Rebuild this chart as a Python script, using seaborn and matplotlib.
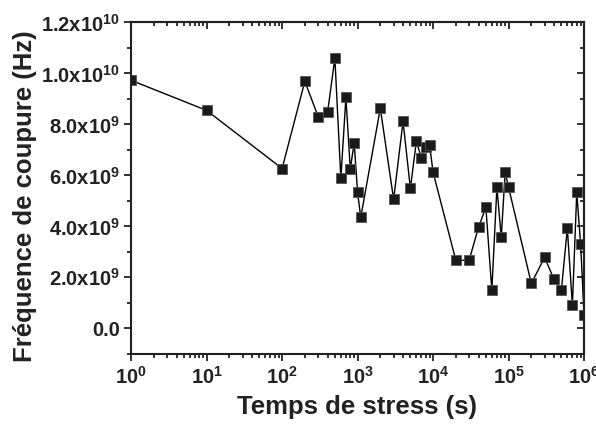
import numpy as np
import pandas as pd
import matplotlib
matplotlib.use("Agg")
import matplotlib.pyplot as plt
import matplotlib.ticker as mticker
import seaborn as sns

# Temps de stress (s) et fréquence de coupure (Hz)
temps = [1, 10, 100, 200, 300, 400, 500, 600, 700, 800, 900, 1000, 1100,
         2000, 3000, 4000, 5000, 6000, 7000, 8000, 9000, 10000,
         20000, 30000, 40000, 50000, 60000, 70000, 80000, 90000, 100000,
         200000, 300000, 400000, 500000, 600000, 700000, 800000, 900000, 1000000]
freq = [9.73e9, 8.55e9, 6.27e9, 9.69e9, 8.31e9, 8.47e9, 10.6e9, 5.88e9, 9.06e9,
        6.24e9, 7.29e9, 5.33e9, 4.35e9,
        8.63e9, 5.06e9, 8.12e9, 5.49e9, 7.33e9, 6.70e9, 7.10e9, 7.18e9, 6.12e9,
        2.67e9, 2.67e9, 3.96e9, 4.75e9, 1.49e9, 5.53e9, 3.57e9, 6.12e9, 5.53e9,
        1.76e9, 2.78e9, 1.92e9, 1.49e9, 3.92e9, 0.90e9, 5.33e9, 3.29e9, 0.51e9]

df = pd.DataFrame({"temps": temps, "freq": freq})

sns.set_style("ticks")
plt.rcParams["font.family"] = ["Liberation Sans", "DejaVu Sans"]
plt.rcParams["font.weight"] = "bold"
plt.rcParams["mathtext.fontset"] = "custom"
plt.rcParams["mathtext.rm"] = "Liberation Sans:bold"
plt.rcParams["mathtext.bf"] = "Liberation Sans:bold"
plt.rcParams["mathtext.it"] = "Liberation Sans:bold"
plt.rcParams["mathtext.default"] = "rm"

fig = plt.figure(figsize=(5.96, 4.32), dpi=100)
ax = fig.add_axes([0.22, 0.181, 0.76, 0.767])

sns.lineplot(data=df, x="temps", y="freq", ax=ax, color="black", linewidth=1,
             marker="s", markersize=7.3, markeredgecolor="#555555", markeredgewidth=0.6,
             markerfacecolor="#1a1a1a", errorbar=None, sort=False)

ax.set_xscale("log")
ax.set_xlim(1, 1e6)
ax.set_ylim(-1e9, 1.2e10)

ax.xaxis.set_major_locator(mticker.LogLocator(base=10, numticks=10))
ax.xaxis.set_minor_locator(mticker.LogLocator(base=10, subs=np.arange(2, 10), numticks=20))
ax.xaxis.set_minor_formatter(mticker.NullFormatter())
ax.xaxis.set_major_formatter(mticker.FuncFormatter(lambda v, p: f"10$^{{{int(round(np.log10(v)))}}}$"))

ax.yaxis.set_major_locator(mticker.MultipleLocator(2e9))
ax.yaxis.set_minor_locator(mticker.MultipleLocator(1e9))


def fmt_y(v, p):
    if abs(v) < 1:
        return "0.0"
    e = int(np.floor(np.log10(abs(v))))
    m = v / 10 ** e
    return f"{m:.1f}x10$^{{{e}}}$"


ax.yaxis.set_major_formatter(mticker.FuncFormatter(fmt_y))

for s in ax.spines.values():
    s.set_linewidth(1.5)
    s.set_color("#222222")

ax.tick_params(which="both", direction="out", width=1.3, labelsize=14.5,
               colors="#222222", labelcolor="#222222")
ax.tick_params(which="major", length=5)
ax.tick_params(which="minor", length=3)
ax.tick_params(axis="x", pad=4)
ax.tick_params(axis="y", pad=3)

# Axes en haut et à droite avec graduations vers l'intérieur
top = ax.secondary_xaxis("top")
top.set_xscale("log")
top.xaxis.set_major_locator(mticker.LogLocator(base=10, numticks=10))
top.xaxis.set_minor_locator(mticker.LogLocator(base=10, subs=np.arange(2, 10), numticks=20))
top.tick_params(which="both", direction="in", labeltop=False, width=1.3, colors="#222222")
top.tick_params(which="major", length=5)
top.tick_params(which="minor", length=3)
right = ax.secondary_yaxis("right")
right.yaxis.set_major_locator(mticker.MultipleLocator(2e9))
right.yaxis.set_minor_locator(mticker.MultipleLocator(1e9))
right.tick_params(which="both", direction="in", labelright=False, width=1.3, colors="#222222")
right.tick_params(which="major", length=5)
right.tick_params(which="minor", length=3)
for sec in (top, right):
    for s in sec.spines.values():
        s.set_linewidth(1.5)

ax.set_xlabel("Temps de stress (s)", fontsize=18.5, fontweight="bold", color="#222222")
ax.set_ylabel("Fréquence de coupure (Hz)", fontsize=18.5, fontweight="bold", color="#222222")
ax.xaxis.set_label_coords(0.499, -0.124)
ax.yaxis.set_label_coords(-0.207, 0.477)

fig.savefig("out.png", dpi=100)
